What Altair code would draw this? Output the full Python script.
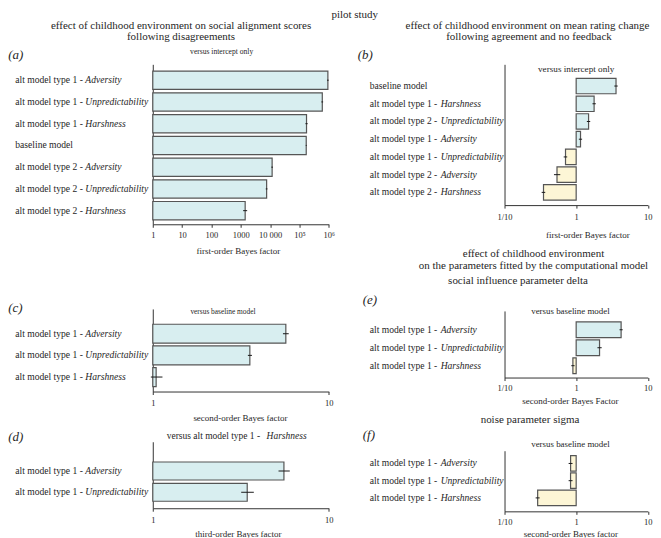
import altair as alt
import pandas as pd

FONT = "Liberation Serif"
TXT = "#262626"
AXC = "#333333"
BLUE = "#d8eef0"
YELLOW = "#fdf6d6"
EDGE = "#555555"

# ---------------- data ----------------
A_PREFIX = ["alt model type 1 - ", "alt model type 1 - ", "alt model type 1 - ", "baseline model",
            "alt model type 2 - ", "alt model type 2 - ", "alt model type 2 - "]
A_ITALIC = ["Adversity", "Unpredictability", "Harshness", "", "Adversity", "Unpredictability", "Harshness"]
A_VALUE = [9.3e5, 6.0e5, 1.74e5, 1.70e5, 1.17e4, 7.6e3, 1.41e3]
A_LOW = [8.7e5, 5.6e5, 1.60e5, 1.64e5, 1.10e4, 7.1e3, 1.20e3]
A_HIGH = [9.9e5, 6.4e5, 1.90e5, 1.76e5, 1.25e4, 8.1e3, 1.65e3]
A_TICKS = [1, 10, 100, 1000, 10000, 100000, 1000000]
A_TICK_LABELS = ["1", "10", "100", "1000", "10 000", "10\u2075", "10\u2076"]

B_PREFIX = ["baseline model", "alt model type 1 - ", "alt model type 2 - ", "alt model type 1 -  ",
            "alt model type 1 - ", "alt model type 2 - ", "alt model type 2 - "]
B_ITALIC = ["", "Harshness", "Unpredictability", "Adversity", "Unpredictability", "Adversity", "Harshness"]
B_VALUE = [3.6, 1.78, 1.49, 1.15, 0.71, 0.54, 0.35]
B_LOW = [3.41, 1.69, 1.41, 1.09, 0.67, 0.49, 0.33]
B_HIGH = [3.80, 1.88, 1.57, 1.21, 0.75, 0.60, 0.37]

C_PREFIX = ["alt model type 1 - ", "alt model type 1 - ", "alt model type 1 - "]
C_ITALIC = ["Adversity", "Unpredictability", "Harshness"]
C_VALUE = [5.7, 3.56, 1.045]
C_LOW = [5.49, 3.47, 0.975]
C_HIGH = [5.92, 3.66, 1.135]

D_PREFIX = ["alt model type 1 - ", "alt model type 1 - "]
D_ITALIC = ["Adversity", "Unpredictability"]
D_VALUE = [5.56, 3.44]
D_LOW = [5.18, 3.18]
D_HIGH = [6.00, 3.75]

E_PREFIX = ["alt model type 1 -  ", "alt model type 1 - ", "alt model type 1 - "]
E_ITALIC = ["Adversity", "Unpredictability", "Harshness"]
E_VALUE = [4.24, 2.12, 0.90]
E_LOW = [4.03, 1.98, 0.855]
E_HIGH = [4.46, 2.27, 0.95]

F_PREFIX = ["alt model type 1 -  ", "alt model type 1 - ", "alt model type 1 - "]
F_ITALIC = ["Adversity", "Unpredictability", "Harshness"]
F_VALUE = [0.836, 0.835, 0.29]
F_LOW = [0.785, 0.785, 0.272]
F_HIGH = [0.89, 0.89, 0.309]

SMALL_TICKS = [0.1, 1, 10]
SMALL_TICK_LABELS = ["1/10", "1", "10"]
ONE_TEN_TICKS = [1, 10]
ONE_TEN_LABELS = ["1", "10"]


def label_expr(ticks, labels):
    parts = []
    for t, l in zip(ticks, labels):
        parts.append(f"abs(datum.value - {t}) < {t}*0.001 ? '{l}'")
    return " : ".join(parts) + " : ''"


def txt(s, x, y, size, align="center", style="normal"):
    return alt.Chart(pd.DataFrame({"t": [s]})).mark_text(
        align=align, baseline="alphabetic", font=FONT, fontSize=size,
        fontStyle=style, color=TXT
    ).encode(text="t:N", x=alt.value(x), y=alt.value(y))


def spacer(x1, x2, y1, y2):
    # invisible layout box that fixes the extent of a panel
    return alt.Chart(pd.DataFrame({"s": [0]})).mark_rect(opacity=0).encode(
        x=alt.value(x1), x2=alt.value(x2), y=alt.value(y1), y2=alt.value(y2))


def panel(prefix, italic, value, low, high, domain, ticks, tick_labels,
          W, H, pi, po, align, lab_x, ital_dx, label_pad,
          xtitle, title_x, title_y, texts, box):
    df = pd.DataFrame({"prefix": prefix, "italic": italic,
                       "value": value, "low": low, "high": high})
    df["key"] = df["prefix"] + df["italic"]
    yaxis = alt.Axis(labels=False, ticks=False, title=None, grid=False,
                     domainColor=AXC, domainWidth=1)
    Y = alt.Y("key:N", sort=None,
              scale=alt.Scale(paddingInner=pi, paddingOuter=po, align=align),
              axis=yaxis)
    xscale = alt.Scale(type="log", domain=domain, nice=False)
    xaxis = alt.Axis(values=ticks, labelExpr=label_expr(ticks, tick_labels),
                     tickSize=3, labelPadding=label_pad, labelBaseline="middle",
                     labelFlush=False, labelOverlap=False,
                     title=xtitle, titleX=title_x, titleY=title_y,
                     titleBaseline="middle", titleAlign="center", grid=False)
    base = alt.Chart(df)
    bars = base.mark_bar(stroke=EDGE, strokeWidth=1.2).encode(
        x=alt.X("value:Q", scale=xscale, axis=xaxis),
        x2=alt.datum(1),
        y=Y,
        fill=alt.condition("datum.value >= 1", alt.value(BLUE), alt.value(YELLOW)),
    )
    errs = base.mark_rule(color="#1a1a1a", strokeWidth=1).encode(
        x=alt.X("low:Q", scale=xscale, axis=xaxis),
        x2="high:Q",
        y=Y,
    )
    lab1 = base.mark_text(align="left", baseline="middle", font=FONT,
                          fontSize=9.6, color=TXT).encode(
        x=alt.value(lab_x), y=Y, text="prefix:N")
    lab2 = base.mark_text(align="left", baseline="middle", font=FONT,
                          fontSize=9.6, fontStyle="italic", color=TXT).encode(
        x=alt.value(lab_x + ital_dx), y=Y, text="italic:N")
    return alt.layer(spacer(*box), bars, errs, lab1, lab2, *texts).properties(width=W, height=H)


LW, RW = 176.3, 143.5
LX1, LX2 = -144.7, 185
RX1, RX2 = -185, 100

A = panel(A_PREFIX, A_ITALIC, A_VALUE, A_LOW, A_HIGH, [1, 1000000], A_TICKS, A_TICK_LABELS,
          LW, 160.2, 0.16, 0.258, 0.60, -137.7, 70.1, 6.8,
          "first-order Bayes factor", 85.3, 26,
          [txt("effect of childhood environment on social alignment scores", 28.3, -35.8, 11),
           txt("following disagreements", 28.3, -24.5, 11),
           txt("(a)", -144.7, -5, 13, "left", "italic"),
           txt("versus intercept only", 69, -10, 7.6)],
          (LX1, LX2, -55.3, 201.7))

C = panel(C_PREFIX, C_ITALIC, C_VALUE, C_LOW, C_HIGH, [1, 10], ONE_TEN_TICKS, ONE_TEN_LABELS,
          LW, 82.7, 0.124, 0.468, 0.754, -137.7, 70.1, 8,
          "second-order Bayes factor", 87.3, 26.3,
          [txt("(c)", -144.7, 3.5, 13, "left", "italic"),
           txt("versus baseline model", 70.3, 4.7, 7.4)],
          (LX1, LX2, -43, 118))

D = panel(D_PREFIX, D_ITALIC, D_VALUE, D_LOW, D_HIGH, [1, 10], ONE_TEN_TICKS, ONE_TEN_LABELS,
          LW, 66.6, 0.155, 0.641, 0.744, -137.7, 70.1, 8.7,
          "third-order Bayes factor", 85.3, 25.7,
          [txt("(d)", -144.7, -0.7, 13, "left", "italic"),
           txt("versus  alt model type 1 - ", 14, -2.4, 9.5, "left"),
           txt("Harshness", 114, -2.4, 9.5, "left", "italic")],
          (LX1, LX2, -14.7, 96.5))

B = panel(B_PREFIX, B_ITALIC, B_VALUE, B_LOW, B_HIGH, [0.1, 10], SMALL_TICKS, SMALL_TICK_LABELS,
          RW, 141, 0.127, 0.535, 0.737, -135, 71, 8.7,
          "first-order Bayes factor", 83, 29.7,
          [txt("pilot study", -150, -46.3, 11),
           txt("effect of childhood environment on mean rating change", 23, -35.8, 11),
           txt("following agreement and no feedback", 24.5, -24.5, 11),
           txt("(b)", -147, -5, 13, "left", "italic"),
           txt("versus intercept only", 71.8, 7.4, 9.2)],
          (RX1, RX2, -55.3, 176.7))

E = panel(E_PREFIX, E_ITALIC, E_VALUE, E_LOW, E_HIGH, [0.1, 10], SMALL_TICKS, SMALL_TICK_LABELS,
          RW, 66.7, 0.128, 0.417, 0.733, -135, 71, 7,
          "second-order Bayes Factor", 65.5, 23.3,
          [txt("effect of childhood environment", 29, -54, 11),
           txt("on the parameters fitted by the computational model", 29, -41.7, 11),
           txt("social influence parameter delta", 13.5, -26.7, 11),
           txt("(e)", -142, -6.7, 13, "left", "italic"),
           txt("versus baseline model", 66, 2.7, 8.9)],
          (RX1, RX2, -70, 98))

F = panel(F_PREFIX, F_ITALIC, F_VALUE, F_LOW, F_HIGH, [0.1, 10], SMALL_TICKS, SMALL_TICK_LABELS,
          RW, 60.7, 0.101, 0.31, 0.467, -135, 71, 7,
          "second-order Bayes factor", 66, 22,
          [txt("noise parameter sigma", 25.5, -27.7, 11),
           txt("(f)", -142, -11.7, 13, "left", "italic"),
           txt("versus baseline model", 66, -4, 8.9)],
          (RX1, RX2, -42, 87.5))

left = alt.vconcat(A, C, D, spacing=0)
right = alt.vconcat(B, E, F, spacing=0)

chart = alt.hconcat(left, right, spacing=-17.7).properties(
    padding=0, background="white"
).configure_view(stroke=None).configure_axis(
    labelFont=FONT, titleFont=FONT, labelFontSize=8.5, titleFontSize=9,
    labelColor=TXT, titleColor=TXT, titleFontWeight="normal",
    domainColor=AXC, tickColor=AXC, domainWidth=1, tickWidth=1
)

chart.save("out.html", embed_options={"renderer": "svg", "actions": False})
